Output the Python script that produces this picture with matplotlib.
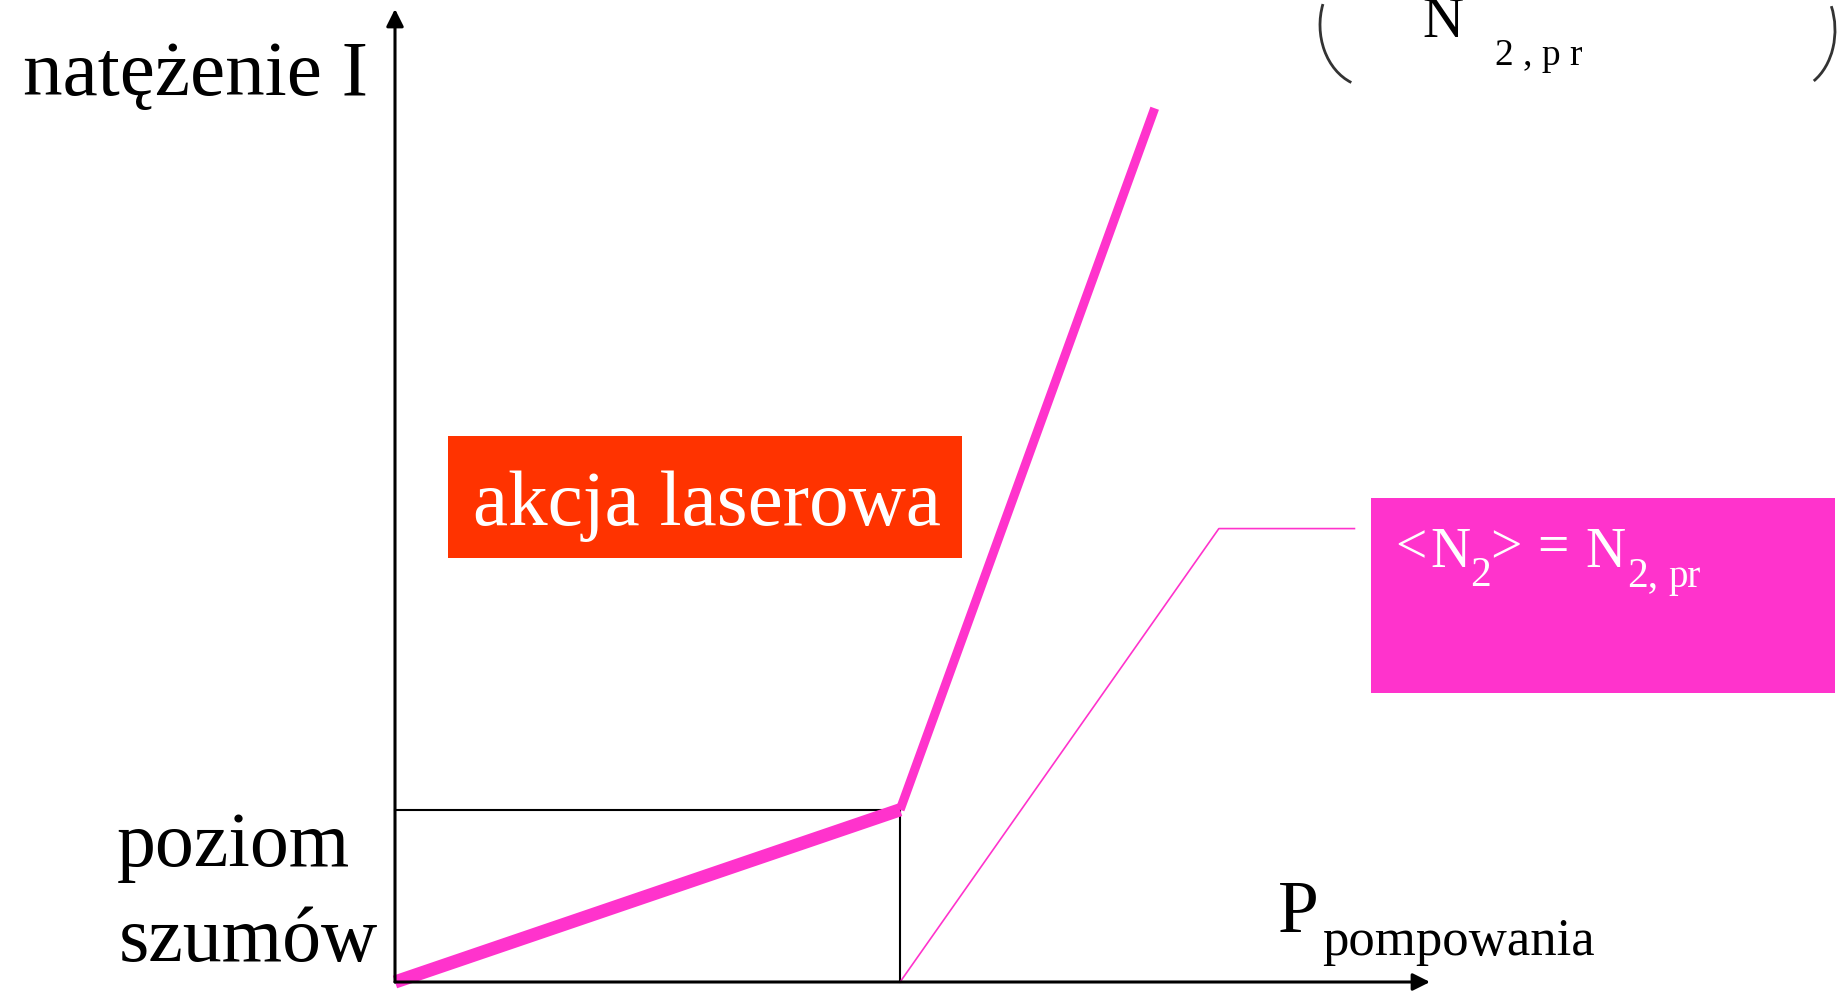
import matplotlib
matplotlib.use("Agg")
import matplotlib.pyplot as plt
from matplotlib.patches import Rectangle, Arc

plt.rcParams['font.family'] = ['Liberation Serif', 'DejaVu Serif']

W, H = 1838, 996

#================ Dane (jednostki umowne) ================
p_th = 4.88      # prog akcji laserowej
i_szum = 1.77    # poziom szumow

p_laser = [0.0, 4.88, 7.34]   # natezenie I(P)
i_laser = [0.0, 1.77, 8.98]

p_n2 = [4.88, 7.96, 9.27]     # <N2>(P)
n2 = [0.0, 4.66, 4.66]
#==========================================================

MAG = '#ff33cc'
RED = '#ff3300'

fig = plt.figure(figsize=(W / 100, H / 100), dpi=100)

# warstwa z opisami w pikselach (y liczone od gory)
ov = fig.add_axes([0, 0, 1, 1])
ov.set_xlim(0, W)
ov.set_ylim(0, H)
ov.axis('off')

def Y(y):
    return H - y

# glowny wykres
x0, y0, x1, y1 = 395, 982, 1430, 9
ax = fig.add_axes([x0 / W, (H - y0) / H, (x1 - x0) / W, (y0 - y1) / H])
ax.set_xlim(0, 10)
ax.set_ylim(0, 10)
ax.axis('off')

strzalka = dict(arrowstyle='-|>', lw=2.2, color='k', mutation_scale=26, shrinkA=0, shrinkB=0)
ax.annotate('', xy=(1, 0), xytext=(0, 0), xycoords='axes fraction',
            arrowprops=strzalka, annotation_clip=False)
ax.annotate('', xy=(0, 1), xytext=(0, 0), xycoords='axes fraction',
            arrowprops=strzalka, annotation_clip=False)

ax.plot([0, p_th], [i_szum, i_szum], color='k', lw=1.5, clip_on=False)
ax.plot([p_th, p_th], [0, i_szum], color='k', lw=1.5, clip_on=False)

ax.plot(p_laser[:2], i_laser[:2], color=MAG, lw=9.5, solid_capstyle='butt', clip_on=False)
ax.plot(p_laser[1:], i_laser[1:], color=MAG, lw=6.5, solid_capstyle='butt', clip_on=False)
ax.plot(p_n2, n2, color=MAG, lw=1.2, clip_on=False)

# prostokaty z opisami
ov.add_patch(Rectangle((448, Y(558)), 962 - 448, 558 - 436, color=RED, lw=0))
ov.text(473, Y(525), 'akcja laserowa', color='white', fontsize=57, va='baseline')

ov.add_patch(Rectangle((1371, Y(693)), 1835 - 1371, 693 - 498, color=MAG, lw=0))
for s, x, y, fs in [('<', 1395, 563, 40), ('N', 1430, 567, 40), ('2', 1470, 586, 30),
                    ('>', 1490, 563, 40), ('=', 1537, 563, 40), ('N', 1585, 567, 40),
                    ('2,', 1627, 586, 30), ('pr', 1668, 587, 28)]:
    ov.text(x, Y(y), s, color='white', fontsize=fs, va='baseline')

# opisy osi
ov.text(23, Y(95), 'natężenie I', fontsize=57, va='baseline')
ov.text(117, Y(866), 'poziom', fontsize=56, va='baseline')
ov.text(119, Y(961), 'szumów', fontsize=56, va='baseline')
ov.text(1278, Y(932), 'P', fontsize=53, va='baseline')
ov.text(1322, Y(955), 'pompowania', fontsize=38, va='baseline')

# ucieta formula u gory
ov.text(1422, Y(37), 'N', fontsize=41, va='baseline')
ov.text(1495, Y(65), '2 , p r', fontsize=27, va='baseline')
ov.add_patch(Arc((1370, Y(25)), 100, 124, theta1=156, theta2=252, color='#333333', lw=2))
ov.add_patch(Arc((1790, Y(30)), 90, 120, theta1=-65, theta2=30, color='#333333', lw=2))

fig.savefig('out.png', dpi=100)
